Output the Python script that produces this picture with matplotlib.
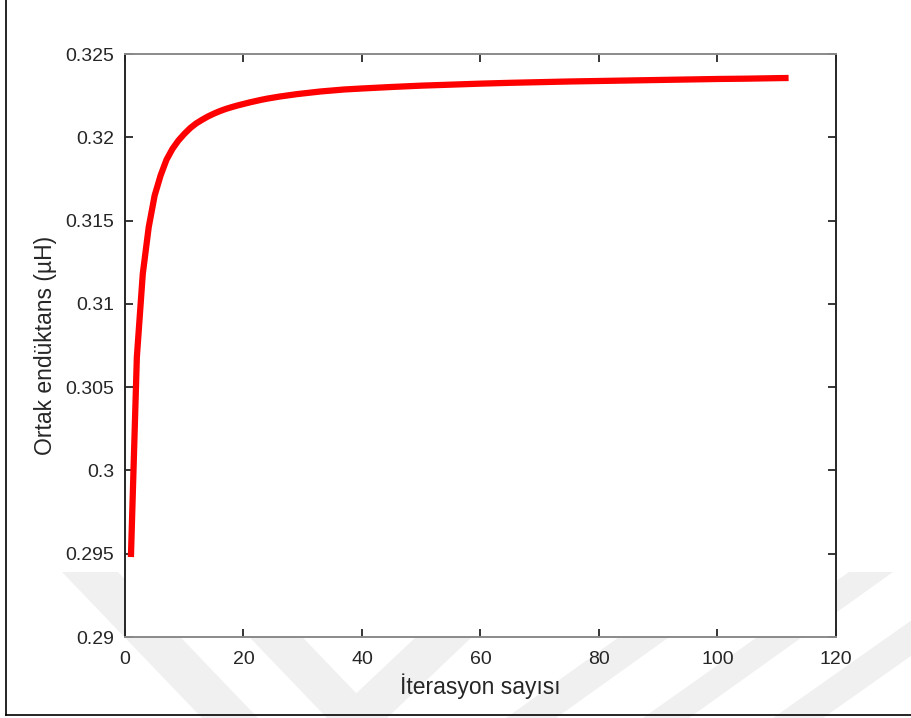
import matplotlib

matplotlib.use("Agg")

import matplotlib.pyplot as plt
from matplotlib.lines import Line2D
from matplotlib.patches import Polygon


W, H = 912, 718

# values
iterations = list(range(1, 41)) + [45, 50, 55, 60, 65, 70, 75, 80, 85, 90,
                                   95, 100, 105, 110, 112]
inductance = [
    0.2948, 0.3068, 0.3118, 0.3146, 0.3165, 0.3177, 0.31865, 0.3193, 0.3198, 0.3202,
    0.32055, 0.32083, 0.32105, 0.32125, 0.32142, 0.32157, 0.3217, 0.32181, 0.32191, 0.3220,
    0.32209, 0.32217, 0.32225, 0.32232, 0.32238, 0.32244, 0.32249, 0.32254, 0.32259, 0.32263,
    0.32267, 0.32271, 0.32275, 0.32278, 0.32281, 0.32284, 0.32287, 0.32289, 0.32291, 0.32293,
    0.32302, 0.32310, 0.32316, 0.32322, 0.32327, 0.32331, 0.32335, 0.32338, 0.32341, 0.32344,
    0.32347, 0.32350, 0.32352, 0.32355, 0.32356,
]

x_ticks = [0, 20, 40, 60, 80, 100, 120]
y_ticks = [0.29, 0.295, 0.3, 0.305, 0.31, 0.315, 0.32, 0.325]
y_tick_labels = ["0.29", "0.295", "0.3", "0.305", "0.31", "0.315", "0.32", "0.325"]

TEXT = "#262626"

plt.rcParams["font.family"] = ["Liberation Sans", "DejaVu Sans"]


def px(x, y):
    # pixel position -> figure fraction
    return (x / W, 1 - y / H)


fig = plt.figure(figsize=(W / 100, H / 100), dpi=100)
fig.patch.set_facecolor("white")

# faint watermark bands in the lower part of the page
bands = [
    [(62, 572), (118, 572), (258, 718), (202, 718)],
    [(187, 572), (240, 572), (380, 718), (327, 718)],
    [(330, 718), (387, 718), (540, 572), (485, 572)],
    [(506, 718), (556, 718), (760, 572), (710, 572)],
    [(643, 718), (689, 718), (893, 572), (849, 572)],
    [(773, 718), (823, 718), (1030, 572), (980, 572)],
]
for band in bands:
    fig.add_artist(Polygon([px(*p) for p in band], closed=True,
                           transform=fig.transFigure, facecolor="#f0f0f0",
                           edgecolor="none", zorder=-2))

# page frame
fig.add_artist(Line2D([px(6, 0)[0], px(6, 715)[0]], [px(6, 0)[1], px(6, 715)[1]],
                      transform=fig.transFigure, color="black", lw=1.2, zorder=-1))
fig.add_artist(Line2D([px(6, 715)[0], 1.0], [px(6, 715)[1], px(6, 715)[1]],
                      transform=fig.transFigure, color="black", lw=1.2, zorder=-1))

left, top = px(125, 54)
right, bottom = px(836, 637)
ax = fig.add_axes([left, bottom, right - left, top - bottom])
ax.set_facecolor("white")

ax.plot(iterations, inductance, color="red", lw=4.5, solid_capstyle="butt",
        solid_joinstyle="round")

ax.set_xlim(0, 120)
ax.set_ylim(0.29, 0.325)
ax.set_xticks(x_ticks)
ax.set_yticks(y_ticks)
ax.set_yticklabels(y_tick_labels)

ax.tick_params(direction="in", length=6, width=1.3, colors=TEXT,
               labelsize=14, top=True, right=True)
ax.tick_params(axis="x", pad=10)
ax.tick_params(axis="y", pad=8)

for side in ["left", "right"]:
    ax.spines[side].set_color(TEXT)
    ax.spines[side].set_linewidth(1.4)
for side in ["top", "bottom"]:
    ax.spines[side].set_color("#8a8a8a")
    ax.spines[side].set_linewidth(1.4)

ax.set_xlabel("İterasyon sayısı", fontsize=16.5, color=TEXT, labelpad=4)
ax.set_ylabel("Ortak endüktans (µH)", fontsize=16.5, color=TEXT, labelpad=6)

fig.savefig("out.png", dpi=100)
